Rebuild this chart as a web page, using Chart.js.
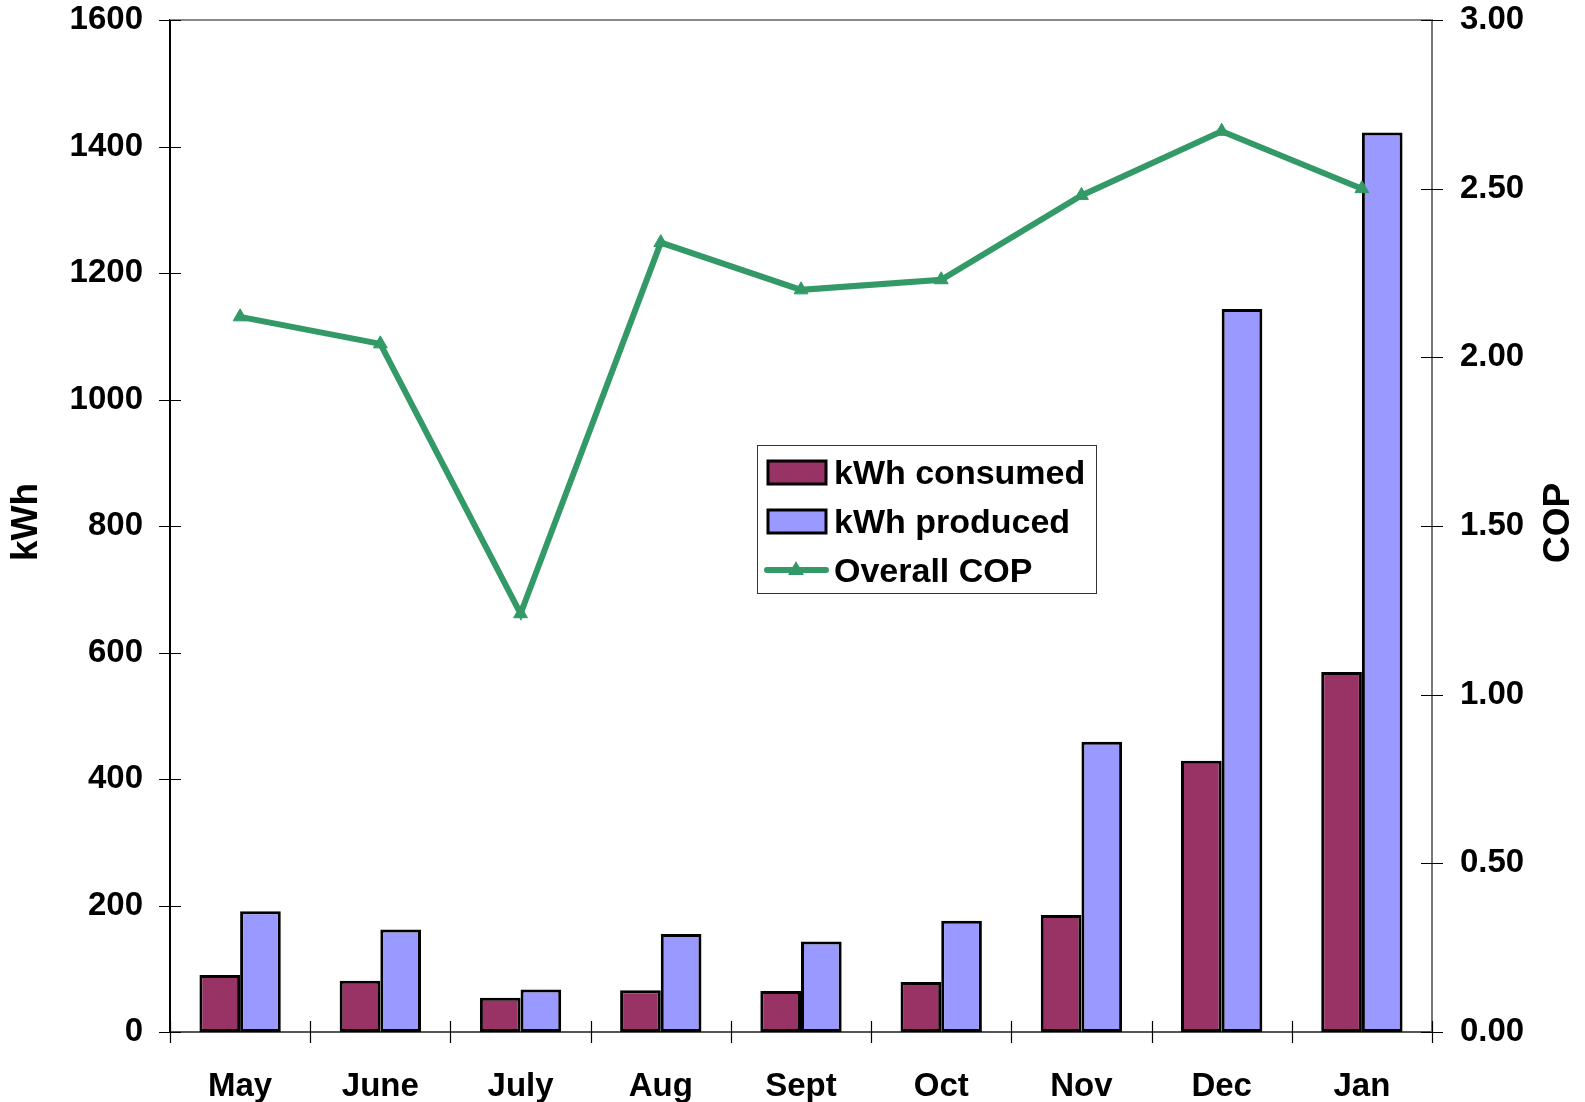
<!DOCTYPE html>
<html>
<head>
<meta charset="utf-8">
<script src="https://cdn.jsdelivr.net/npm/chart.js@4.4.1/dist/chart.umd.min.js"></script>
<style>
  html, body { margin: 0; padding: 0; background: #fff; }
  #wrap { width: 1585px; height: 1102px; }
</style>
</head>
<body>
<div id="wrap"><canvas id="chart" width="1585" height="1102"></canvas></div>
<script>
// Data
const months = ['May', 'June', 'July', 'Aug', 'Sept', 'Oct', 'Nov', 'Dec', 'Jan'];
const kwhConsumed = [90, 81, 54, 66, 65, 79, 185, 429, 569];
const kwhProduced = [191, 162, 67, 155, 143, 176, 459, 1143, 1422];
const overallCop = [2.12, 2.04, 1.24, 2.34, 2.20, 2.23, 2.48, 2.67, 2.50];

const kwhTicks = [0, 200, 400, 600, 800, 1000, 1200, 1400, 1600];
const copTicks = [0, 0.5, 1.0, 1.5, 2.0, 2.5, 3.0];

const FONT = "'Liberation Sans', Arial, sans-serif";
const GREEN = '#339966';
const PLUM = '#993366';
const PERI = '#9999FF';

// Tick marks crossing the axes, plus the top frame line and axis titles
const axisExtras = {
    id: 'axisExtras',
    afterDatasetsDraw(chart) {
        const ctx = chart.ctx;
        const { left, right, top, bottom } = chart.chartArea;
        const x = chart.scales.x, y = chart.scales.y, y2 = chart.scales.y2;
        const L = 11;
        ctx.save();

        // top frame line
        ctx.strokeStyle = '#888';
        ctx.lineWidth = 2;
        ctx.beginPath();
        ctx.moveTo(left, top);
        ctx.lineTo(right, top);
        ctx.stroke();

        ctx.strokeStyle = '#000';
        ctx.lineWidth = 1.2;
        ctx.beginPath();
        y.ticks.forEach(t => {
            const py = Math.round(y.getPixelForValue(t.value)) + 0.5;
            ctx.moveTo(left - L, py); ctx.lineTo(left + L, py);
        });
        y2.ticks.forEach(t => {
            const py = Math.round(y2.getPixelForValue(t.value)) + 0.5;
            ctx.moveTo(right - L, py); ctx.lineTo(right + L, py);
        });
        const w = (right - left) / months.length;
        for (let i = 0; i <= months.length; i++) {
            const px = Math.round(x.getPixelForValue(0) - w / 2 + i * w) + 0.5;
            ctx.moveTo(px, bottom - L); ctx.lineTo(px, bottom + L);
        }
        ctx.stroke();

        // axis titles
        ctx.fillStyle = '#000';
        ctx.font = 'bold 37px ' + FONT;
        ctx.textAlign = 'center';
        ctx.textBaseline = 'middle';
        ctx.save();
        ctx.translate(27, 522);
        ctx.rotate(-Math.PI / 2);
        ctx.fillText('kWh', 0, 0);
        ctx.restore();
        ctx.save();
        ctx.translate(1559, 523);
        ctx.rotate(-Math.PI / 2);
        ctx.fillText('COP', 0, 0);
        ctx.restore();

        ctx.restore();
    }
};

// Legend box inside the plot
const boxLegend = {
    id: 'boxLegend',
    afterDraw(chart) {
        const ctx = chart.ctx;
        const bx = 757, by = 445, bw = 339, bh = 148;
        ctx.save();
        ctx.fillStyle = '#fff';
        ctx.fillRect(bx, by, bw, bh);
        ctx.strokeStyle = '#333';
        ctx.lineWidth = 1;
        ctx.strokeRect(bx + 0.5, by + 0.5, bw, bh);

        const rows = [472, 521, 570];
        ctx.font = 'bold 34px ' + FONT;
        ctx.textBaseline = 'middle';
        ctx.textAlign = 'left';
        chart.data.datasets.forEach(ds => {
            const cy = rows[ds.legendRow];
            if (ds.type === 'line') {
                ctx.strokeStyle = ds.borderColor;
                ctx.lineWidth = 6;
                ctx.lineCap = 'round';
                ctx.beginPath();
                ctx.moveTo(767, cy); ctx.lineTo(826, cy);
                ctx.stroke();
                ctx.fillStyle = ds.borderColor;
                ctx.beginPath();
                ctx.moveTo(796, cy - 9); ctx.lineTo(804, cy + 5); ctx.lineTo(788, cy + 5);
                ctx.closePath();
                ctx.fill();
            } else {
                ctx.fillStyle = ds.backgroundColor;
                ctx.fillRect(768, cy - 11, 58, 23);
                ctx.strokeStyle = '#000';
                ctx.lineWidth = 3;
                ctx.strokeRect(768, cy - 11, 58, 23);
            }
            ctx.fillStyle = '#000';
            ctx.fillText(ds.label, 834, cy + 3);
        });
        ctx.restore();
    }
};

const ctx = document.getElementById('chart').getContext('2d');
const chart = new Chart(ctx, {
    data: {
        labels: months,
        datasets: [
            {
                type: 'line',
                label: 'Overall COP',
                data: overallCop,
                yAxisID: 'y2',
                borderColor: GREEN,
                backgroundColor: GREEN,
                borderWidth: 6,
                pointStyle: 'triangle',
                pointRadius: 8,
                pointBackgroundColor: GREEN,
                pointBorderColor: GREEN,
                pointBorderWidth: 1,
                tension: 0,
                order: 0,
                legendRow: 2
            },
            {
                type: 'bar',
                label: 'kWh consumed',
                data: kwhConsumed,
                yAxisID: 'y',
                backgroundColor: PLUM,
                borderColor: '#000',
                borderWidth: 3,
                borderSkipped: false,
                order: 1,
                legendRow: 0
            },
            {
                type: 'bar',
                label: 'kWh produced',
                data: kwhProduced,
                yAxisID: 'y',
                backgroundColor: PERI,
                borderColor: '#000',
                borderWidth: 3,
                borderSkipped: false,
                order: 1,
                legendRow: 1
            }
        ]
    },
    options: {
        responsive: false,
        animation: false,
        devicePixelRatio: 1,
        layout: { padding: { top: 20, left: 0, right: 0, bottom: 0 } },
        datasets: { bar: { categoryPercentage: 0.58, barPercentage: 1.0 } },
        plugins: {
            legend: { display: false },
            tooltip: { enabled: false }
        },
        scales: {
            x: {
                type: 'category',
                grid: { display: false, offset: true },
                border: { display: true, color: '#555', width: 2 },
                ticks: {
                    color: '#000',
                    font: { family: FONT, size: 33, weight: 'bold', lineHeight: 1 },
                    padding: 30,
                    maxRotation: 0
                },
                afterFit: s => { s.height = 70; s.paddingLeft = 0; s.paddingRight = 0; }
            },
            y: {
                position: 'left',
                min: 0,
                max: 1600,
                grid: { display: false },
                border: { display: true, color: '#000', width: 2 },
                afterBuildTicks: s => { s.ticks = kwhTicks.map(v => ({ value: v })); },
                ticks: {
                    color: '#000',
                    font: { family: FONT, size: 33, weight: 'bold', lineHeight: 1 },
                    padding: 19,
                    callback: v => String(v)
                },
                afterFit: s => { s.width = 170; s.paddingTop = 0; s.paddingBottom = 0; }
            },
            y2: {
                position: 'right',
                min: 0,
                max: 3,
                grid: { display: false },
                border: { display: true, color: '#777', width: 2 },
                afterBuildTicks: s => { s.ticks = copTicks.map(v => ({ value: v })); },
                ticks: {
                    color: '#000',
                    font: { family: FONT, size: 33, weight: 'bold', lineHeight: 1 },
                    padding: 20,
                    callback: v => Number(v).toFixed(2)
                },
                afterFit: s => { s.width = 153; s.paddingTop = 0; s.paddingBottom = 0; }
            }
        }
    },
    plugins: [axisExtras, boxLegend]
});
</script>
</body>
</html>
